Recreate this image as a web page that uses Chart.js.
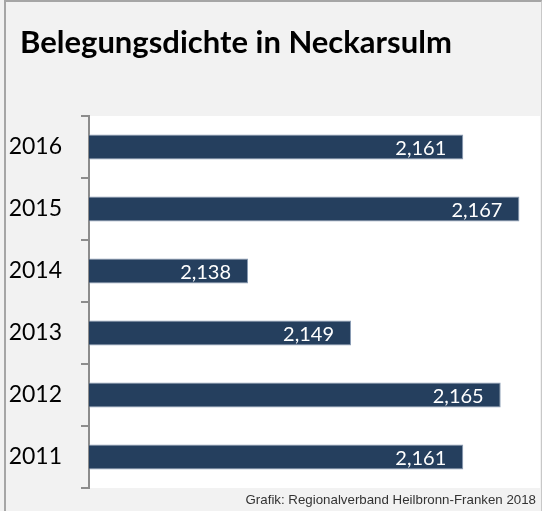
<!DOCTYPE html>
<html>
<head>
<meta charset="utf-8">
<script src="https://cdn.jsdelivr.net/npm/chart.js@4"></script>
<style>
  html, body { margin: 0; padding: 0; background: #f2f2f2; }
  #wrap { position: relative; width: 542px; height: 511px; overflow: hidden; background: #f2f2f2; }
  #frame { position: absolute; left: 4px; top: 0; width: 535px; height: 520px; border-left: 2px solid #a6a6a6; border-top: 2px solid #a6a6a6; border-right: 1px solid #c8c8c8; }
  #title { position: absolute; left: 20px; top: 21px; font-family: Lato, sans-serif; font-weight: bold; font-size: 31px; color: #000; white-space: nowrap; line-height: 40px; }
  #foot { position: absolute; right: 6px; top: 493px; font-family: "Liberation Sans", Arial, sans-serif; font-size: 13.3px; color: #333333; white-space: nowrap; line-height: 14px; }
  canvas { position: absolute; left: 0; top: 0; }
</style>
</head>
<body>
<div id="wrap">
  <div id="frame"></div>
  <canvas id="c" width="542" height="511"></canvas>
  <div id="title">Belegungsdichte in Neckarsulm</div>
  <div id="foot">Grafik: Regionalverband Heilbronn-Franken 2018</div>
</div>
<script>
const years = ['2016', '2015', '2014', '2013', '2012', '2011'];
const values = [2.161, 2.167, 2.138, 2.149, 2.165, 2.161];
const valueLabels = ['2,161', '2,167', '2,138', '2,149', '2,165', '2,161'];
const axisMin = 2.121;
const axisMax = 2.1692;

const plotBg = {
  id: 'plotBg',
  beforeDraw(chart) {
    const { ctx, chartArea: a } = chart;
    ctx.save();
    ctx.fillStyle = '#ffffff';
    ctx.fillRect(a.left, a.top, a.right - a.left, a.bottom - a.top);
    ctx.restore();
  }
};

const barLabels = {
  id: 'barLabels',
  afterDatasetsDraw(chart) {
    const { ctx } = chart;
    const meta = chart.getDatasetMeta(0);
    ctx.save();
    ctx.fillStyle = '#ffffff';
    ctx.font = '20px Lato, sans-serif';
    ctx.textAlign = 'right';
    ctx.textBaseline = 'middle';
    meta.data.forEach((bar, i) => {
      ctx.fillText(valueLabels[i], bar.x - 17, bar.y + 1.5);
    });
    ctx.restore();
  }
};

new Chart(document.getElementById('c'), {
  type: 'bar',
  data: {
    labels: years,
    datasets: [{
      data: values,
      backgroundColor: '#253f5e',
      borderColor: '#8a9cb4',
      borderWidth: 1,
      barPercentage: 0.4,
      categoryPercentage: 1.0
    }]
  },
  options: {
    indexAxis: 'y',
    responsive: false,
    animation: false,
    events: [],
    layout: { padding: { left: 0, top: 116, right: 2, bottom: 23 } },
    plugins: {
      legend: { display: false },
      title: { display: false },
      tooltip: { enabled: false }
    },
    scales: {
      x: {
        display: false,
        min: axisMin,
        max: axisMax
      },
      y: {
        afterFit(scale) {
          scale.width = 89;
          scale.paddingTop = 0;
          scale.paddingBottom = 0;
        },
        grid: {
          drawOnChartArea: false,
          drawTicks: true,
          tickLength: 8,
          color: '#8c8c8c',
          lineWidth: 2,
          offset: true
        },
        border: { display: true, color: '#8c8c8c', width: 2 },
        ticks: {
          color: '#000000',
          font: { family: 'Lato, sans-serif', size: 23 },
          padding: 19
        }
      }
    }
  },
  plugins: [plotBg, barLabels]
});
</script>
</body>
</html>
